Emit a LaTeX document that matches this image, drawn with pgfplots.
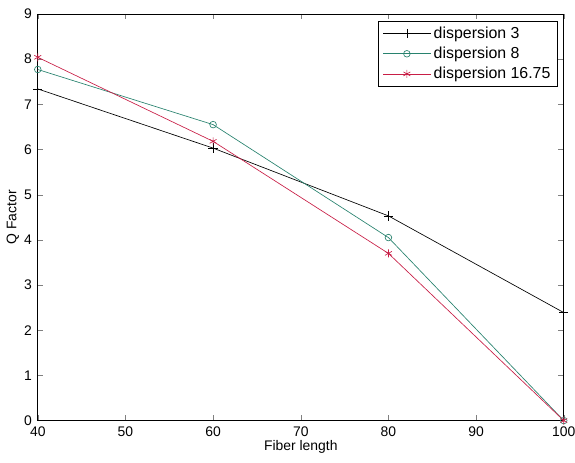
\documentclass[border=0pt]{standalone}
\usepackage{pgfplots}
\pgfplotsset{compat=1.18}
\usepackage{fontspec}
\setmainfont{Liberation Sans}
\definecolor{dteal}{RGB}{40,130,110}
\definecolor{dred}{RGB}{200,30,70}
\begin{document}
\begin{tikzpicture}[x=1pt,y=1pt]
\begin{axis}[
    name=ax,
    scale only axis,
    width=396.75pt, height=306.75pt,
    xmin=40, xmax=100,
    ymin=0, ymax=9,
    xtick={40,50,...,100},
    ytick={0,1,...,9},
    tick align=inside,
    major tick length=4pt,
    xlabel={Fiber length},
    ylabel={Q Factor},
    xlabel style={yshift=4pt},
    ylabel style={yshift=-3pt},
    xticklabel style={yshift=-1pt},
    yticklabel style={xshift=-1pt},
    tick label style={font=\fontsize{10.5}{12}\selectfont},
    label style={font=\fontsize{10.5}{12}\selectfont},
    /pgf/number format/assume math mode=true,
    axis line style={line width=0.6pt},
    legend style={at={(0.988,0.982)}, anchor=north east, font=\fontsize{12}{14}\selectfont,
        draw=black, line width=0.5pt, inner xsep=3pt, inner ysep=2pt, row sep=1pt},
    legend cell align=left,
    legend image code/.code={
        \draw[mark repeat=2,mark phase=2,#1] plot coordinates {(0pt,0pt) (18pt,0pt) (36pt,0pt)};
    },
]
\addplot[color=black, line width=0.5pt, mark=+, mark size=3.5pt] coordinates {
    (40,7.34)(60,6.03)(80,4.53)(100,2.39)
};
\addlegendentry{dispersion 3}
\addplot[color=dteal, line width=0.5pt, mark=o, mark size=2.5pt] coordinates {
    (40,7.77)(60,6.55)(80,4.05)(100,0)
};
\addlegendentry{dispersion 8}
\addplot[color=dred, line width=0.5pt, mark=asterisk, mark size=3pt] coordinates {
    (40,8.04)(60,6.18)(80,3.70)(100,0)
};
\addlegendentry{dispersion 16.75}
\end{axis}
\pgfresetboundingbox
\path[use as bounding box] ([xshift=-28.5pt,yshift=-31.5pt]ax.south west) rectangle ([xshift=8.5pt,yshift=10.5pt]ax.north east);
\end{tikzpicture}
\end{document}
